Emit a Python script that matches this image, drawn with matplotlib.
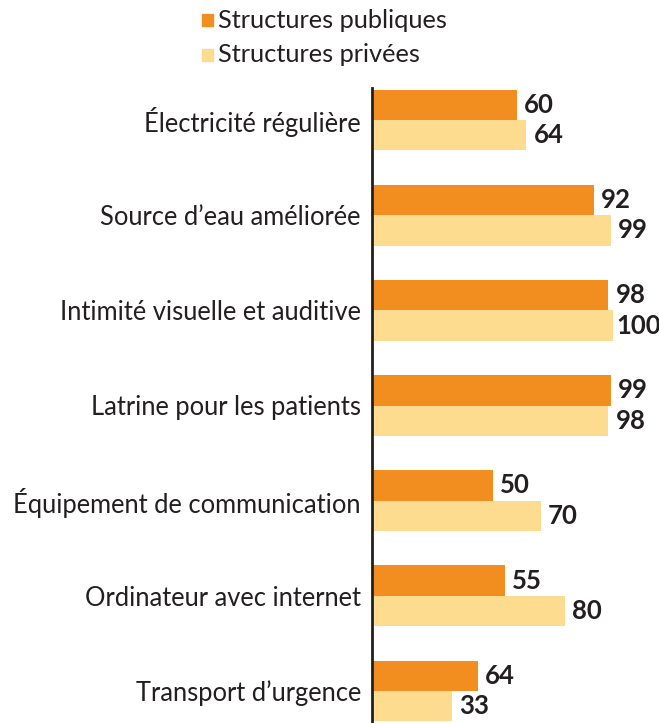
import matplotlib
matplotlib.use('Agg')
import matplotlib.pyplot as plt
from matplotlib.patches import Rectangle
import numpy as np

categories = ["Électricité régulière", "Source d’eau améliorée",
              "Intimité visuelle et auditive", "Latrine pour les patients",
              "Équipement de communication", "Ordinateur avec internet",
              "Transport d’urgence"]
series = ["Structures publiques", "Structures privées"]
# bar lengths as drawn in the source chart
publiques = [60, 92, 98, 99, 50, 55, 44]
privees = [64, 99, 100, 98, 70, 80, 33]
# values printed next to the bars (the last public bar is labelled 64)
labels_pub = ["60", "92", "98", "99", "50", "55", "64"]
labels_priv = ["64", "99", "100", "98", "70", "80", "33"]

c_pub = '#F28E20'
c_priv = '#FDDC90'
txt = '#231F20'
fam = ['Lato', 'DejaVu Sans']

W, H = 659, 723
fig = plt.figure(figsize=(W/100, H/100), dpi=100)
ax = fig.add_axes([372/W, 0, (613-372)/W, (H-88)/H])

y = np.arange(len(categories))
h = 0.32
ax.barh(y - h/2, publiques, height=h, color=c_pub)
ax.barh(y + h/2, privees, height=h, color=c_priv)

for yi, v, lab in zip(y, publiques, labels_pub):
    ax.text(v + 3, yi - h/2, lab, va='center', ha='left', fontsize=18.5,
            fontweight='bold', color=txt, family=fam, clip_on=False)
for yi, v, lab in zip(y, privees, labels_priv):
    off = 1.2 if v >= 100 else 3
    ax.text(v + off, yi + h/2, lab, va='center', ha='left', fontsize=18.5,
            fontweight='bold', color=txt, family=fam, clip_on=False)

ax.set_xlim(0, 100)
ax.set_ylim(6.336, -0.336)
ax.set_yticks(y)
ax.set_yticklabels(categories, fontsize=18.4, family=fam, color=txt)
ax.tick_params(axis='y', length=0, pad=8)
ax.set_xticks([])
for s in ['top', 'right', 'bottom']:
    ax.spines[s].set_visible(False)
ax.spines['left'].set_linewidth(2)
ax.spines['left'].set_color(txt)

# legend drawn by hand
for i, (name, col) in enumerate(zip(series, [c_pub, c_priv])):
    yc = 20 + 35 * i
    fig.patches.append(Rectangle((202/W, 1 - (yc + 6)/H), 11/W, 12/H,
                                 transform=fig.transFigure, color=col))
    fig.text(218/W, 1 - yc/H, name, va='center', ha='left', fontsize=18.3,
             family=fam, color=txt)

fig.savefig('out.png', dpi=100)
